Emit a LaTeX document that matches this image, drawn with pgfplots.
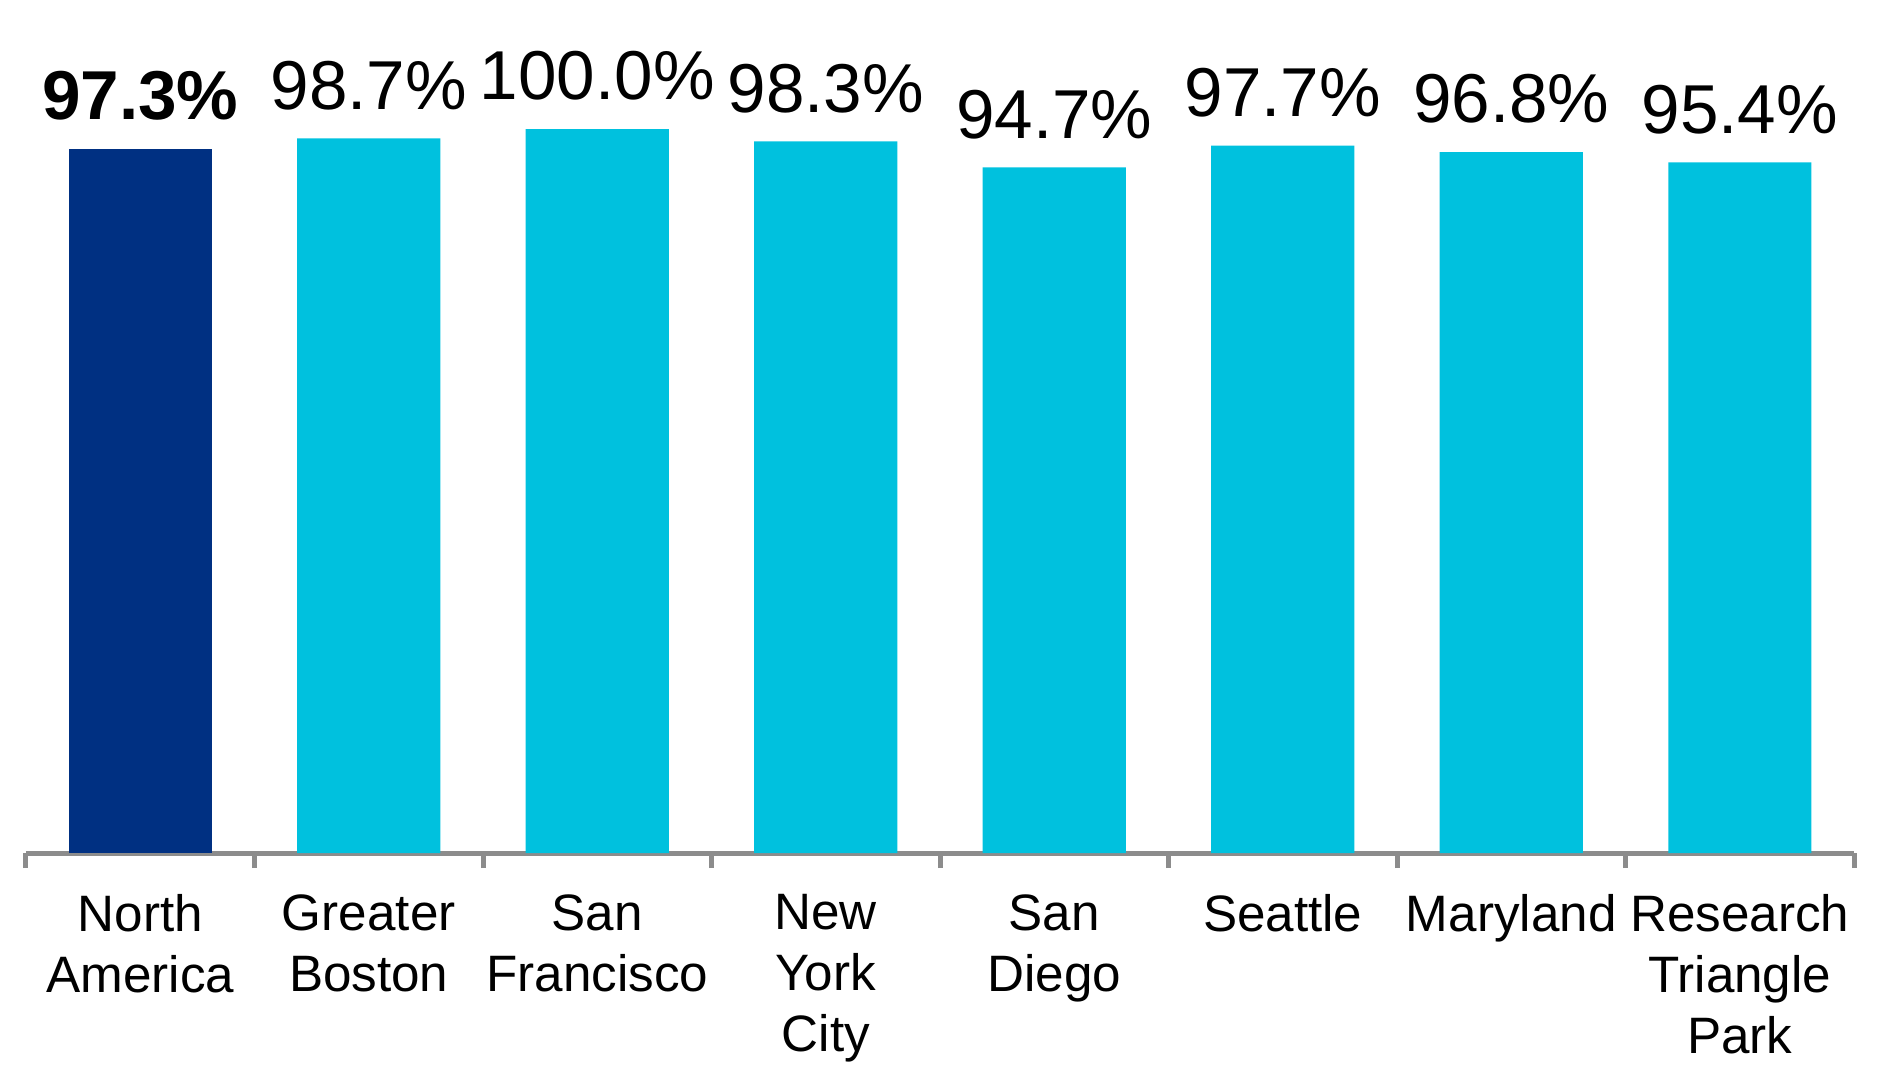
\documentclass[border=0pt]{standalone}
\usepackage{fontspec}
\setmainfont{Liberation Sans}
\usepackage{pgfplots}
\pgfplotsset{compat=1.18}

\definecolor{navy}{HTML}{003082}
\definecolor{cyanbar}{HTML}{00C1DE}
\definecolor{axisgray}{HTML}{8C8C8C}

\begin{document}
\begin{tikzpicture}
\begin{axis}[
  name=ax,
  scale only axis,
  width=457pt, height=181pt,
  xmin=-0.5, xmax=7.5, ymin=0, ymax=100,
  hide y axis,
  axis x line*=bottom,
  x axis line style={draw=axisgray, line width=1.25pt, -},
  ybar, bar width=0.626, bar shift=0pt,
  xtick={0,...,7},
  xticklabels={North\\America, Greater\\Boston, San\\Francisco, New\\York\\City,
    San\\Diego, Seattle, Maryland, Research\\Triangle\\Park},
  major tick length=0pt,
  minor xtick={-0.5,0.5,...,7.5},
  minor tick length=3.75pt,
  tick align=outside,
  minor tick style={draw=axisgray, line width=1.25pt},
  xticklabel style={font=\fontsize{12.8}{15.3}\selectfont, align=center,
    anchor=north, yshift=-6.8pt},
  nodes near coords={\pgfmathprintnumber{\pgfplotspointmeta}\%},
  every node near coord/.append style={anchor=south, text=black, yshift=3.6pt},
  /pgf/number format/.cd, fixed, fixed zerofill, precision=1, assume math mode=true,
  /pgfplots/.cd,
  clip=false,
]
\addplot[fill=navy, draw=none,
  every node near coord/.append style={font=\fontsize{17.3}{20.8}\selectfont\bfseries}]
  coordinates {(0,97.3)};
\addplot[fill=cyanbar, draw=none,
  every node near coord/.append style={font=\fontsize{17.3}{20.8}\selectfont}]
  coordinates {(1,98.7)(2,100.0)(3,98.3)(4,94.7)(5,97.7)(6,96.8)(7,95.4)};
\end{axis}
\pgfresetboundingbox
\path ([xshift=-6.5pt,yshift=-53pt]ax.south west) rectangle ([xshift=5.75pt,yshift=32.25pt]ax.north east);
\end{tikzpicture}
\end{document}
